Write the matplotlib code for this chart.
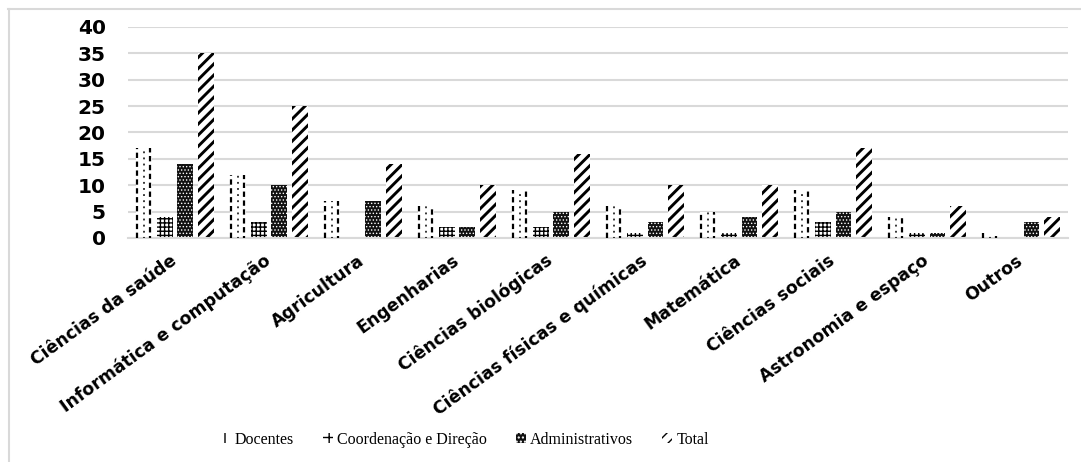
import numpy as np
import matplotlib
matplotlib.use("Agg")
import matplotlib.pyplot as plt
from matplotlib.patches import Patch
from matplotlib.lines import Line2D

categories = ["Ciências da saúde", "Informática e computação", "Agricultura",
              "Engenharias", "Ciências biológicas", "Ciências físicas e químicas",
              "Matemática", "Ciências sociais", "Astronomia e espaço", "Outros"]
docentes = [17, 12, 7, 6, 9, 6, 5, 9, 4, 1]
coordenacao = [4, 3, 0, 2, 2, 1, 1, 3, 1, 0]
administrativos = [14, 10, 7, 2, 5, 3, 4, 5, 1, 3]
total = [35, 25, 14, 10, 16, 10, 10, 17, 6, 4]
series_labels = ["Docentes", "Coordenação e Direção", "Administrativos", "Total"]
yticks = [0, 5, 10, 15, 20, 25, 30, 35, 40]

GRID = "#d9d9d9"

fig = plt.figure(figsize=(10.81, 4.62), dpi=100)
ax = fig.add_axes([0.1184, 0.485, 0.8696, 0.4566])

x = np.arange(len(categories))
step = 0.223
width = 0.17
offsets = (np.arange(4) - 1.5) * step

# Docentes: white bars drawn with dashed vertical strokes
ax.bar(x + offsets[0], docentes, width, color="white", linewidth=0, zorder=2)
d = np.array(docentes, dtype=float)
xl = x + offsets[0] - width / 2 + 0.012
xr = x + offsets[0] + width / 2 - 0.012
xm = x + offsets[0]
ax.vlines(xl, 0, d, colors="black", linestyles=(0, (2.4, 1.6)), lw=1.6, zorder=3)
ax.vlines(xr, 0, d, colors="black", linestyles=(1.5, (2.4, 1.6)), lw=1.6, zorder=3)
ax.vlines(xm, 0, d, colors="black", linestyles=(0.5, (1.2, 2.8)), lw=1.1, zorder=3)

# Coordenação e Direção: fine grid pattern
with plt.rc_context({"hatch.linewidth": 1.0}):
    ax.bar(x + offsets[1], coordenacao, width, color="white",
           edgecolor="black", linewidth=0, hatch="++++", zorder=2)

# Administrativos: black with small white dots
with plt.rc_context({"hatch.linewidth": 0.6}):
    ax.bar(x + offsets[2], administrativos, width, color="#111111",
           edgecolor="white", linewidth=0, hatch=".....", zorder=2)

# Total: heavy diagonal stripes
with plt.rc_context({"hatch.linewidth": 2.1}):
    ax.bar(x + offsets[3], total, width, color="white",
           edgecolor="black", linewidth=0, hatch="///", zorder=2)

ax.set_xlim(-0.5, len(categories) - 0.5)
ax.set_ylim(0, 40)
ax.set_yticks(yticks)
ax.yaxis.grid(True, color=GRID, linewidth=1.5)
ax.set_axisbelow(True)
for s in ["top", "right", "left"]:
    ax.spines[s].set_visible(False)
ax.spines["bottom"].set_color(GRID)
ax.spines["bottom"].set_linewidth(1.5)
ax.tick_params(axis="both", length=0)
ax.tick_params(axis="y", pad=16)

for lab in ax.get_yticklabels():
    lab.set_fontfamily("DejaVu Sans")
    lab.set_fontweight("bold")
    lab.set_fontsize(14.5)

ax.set_xticks(x)
ax.set_xticklabels(categories, rotation=36, ha="right", va="center",
                   rotation_mode="anchor",
                   fontfamily="DejaVu Sans", fontweight="bold", fontsize=12.4)
ax.tick_params(axis="x", pad=15)

# legend
handles = [
    Patch(facecolor="white", edgecolor="black", linewidth=0, hatch="|"),
    Patch(facecolor="white", edgecolor="black", linewidth=0, hatch="++"),
    Patch(facecolor="#111111", edgecolor="white", linewidth=0, hatch="...."),
    Patch(facecolor="white", edgecolor="black", linewidth=0, hatch="///"),
]
fig.legend(handles, series_labels, loc="center", bbox_to_anchor=(0.43, 0.048),
           ncol=4, frameon=False,
           prop={"family": "Liberation Serif", "size": 11.5},
           handlelength=0.6, handleheight=0.6, handletextpad=0.3,
           columnspacing=1.8)

# chart area border (top and left edges)
fig.add_artist(Line2D([8 / 1081, 1.0], [1 - 9 / 462, 1 - 9 / 462],
                      transform=fig.transFigure, color=GRID, lw=1.5))
fig.add_artist(Line2D([9 / 1081, 9 / 1081], [0.0, 1 - 9 / 462],
                      transform=fig.transFigure, color=GRID, lw=1.5))

fig.savefig("out.png", dpi=100, facecolor="white")
